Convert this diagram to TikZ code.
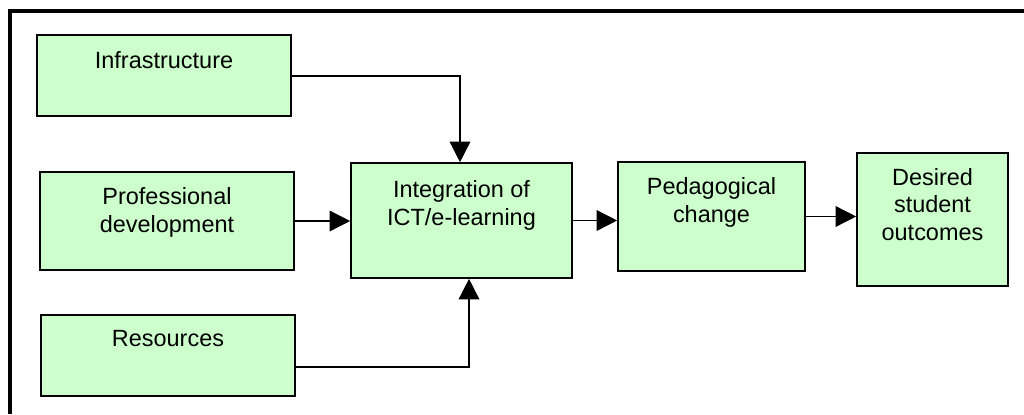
\documentclass[tikz,border=0pt]{standalone}
\usepackage{fontspec}
\setmainfont{Liberation Sans}
\usetikzlibrary{arrows.meta}
\definecolor{boxgreen}{HTML}{CCFFCC}
\tikzset{
  stagebox/.style={draw=black, fill=boxgreen, line width=1.2pt, inner sep=0pt},
  stagetext/.style={anchor=base, align=center, inner sep=0pt,
    font=\fontsize{17.6pt}{20.6pt}\selectfont},
  flow/.style={line width=1.1pt, -{Triangle[length=15.5pt,width=15.5pt]}},
  frameline/.style={line width=3pt}
}
\begin{document}
\begin{tikzpicture}[x=0.75pt, y=-0.75pt]
  \useasboundingbox (0,0) rectangle (1024,414);
  % open frame: top and left edges only
  \draw[frameline] (10,414) -- (10,11) -- (1024,11);

  % boxes, given by centre and size in pixel units
  \node[stagebox] (infra) at (164,75.5) [minimum width=254*0.75pt, minimum height=81*0.75pt] {};
  \node[stagebox] (prof) at (167,221) [minimum width=254*0.75pt, minimum height=98*0.75pt] {};
  \node[stagebox] (res) at (168,355.5) [minimum width=254*0.75pt, minimum height=81*0.75pt] {};
  \node[stagebox] (ict) at (461.5,220.5) [minimum width=221*0.75pt, minimum height=115*0.75pt] {};
  \node[stagebox] (ped) at (711.5,216.5) [minimum width=187*0.75pt, minimum height=109*0.75pt] {};
  \node[stagebox] (out) at (932.5,219.5) [minimum width=151*0.75pt, minimum height=133*0.75pt] {};

  % labels, set by the baseline of their last line
  \node[stagetext] (infraT) at (164,68) {Infrastructure};
  \node[stagetext] (profT) at (167,232) {Professional\\development};
  \node[stagetext] (resT) at (168,346) {Resources};
  \node[stagetext] (ictT) at (461.5,225) {Integration of\\ICT/e-learning};
  \node[stagetext] (pedT) at (711.5,222) {Pedagogical\\change};
  \node[stagetext] (outT) at (932.5,240) {Desired\\student\\outcomes};

  % connectors
  \coordinate (infraBend) at (460,76);
  \coordinate (resBend) at (469,367);
  \draw[flow] (infra.east |- infraBend) -- (infraBend) -- (infraBend |- ict.north);
  \draw[flow] (res.east |- resBend) -- (resBend) -- (resBend |- ict.south);
  \draw[flow] (prof.east) -- (prof.east -| ict.west);
  \draw[flow] (ict.east) -- (ict.east -| ped.west);
  \draw[flow] (ped.east) -- (ped.east -| out.west);
\end{tikzpicture}
\end{document}
